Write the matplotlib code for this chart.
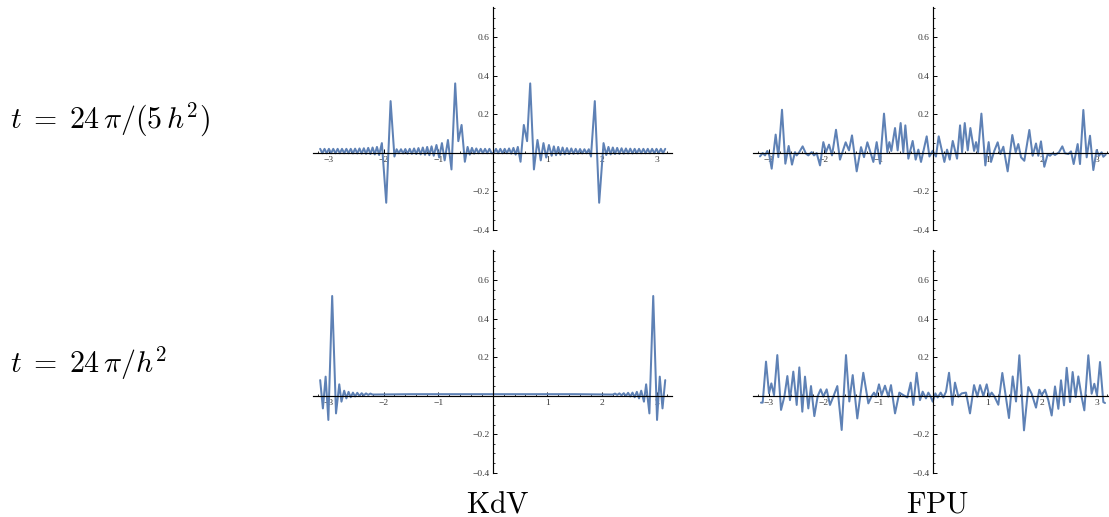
import numpy as np
import matplotlib
matplotlib.use("Agg")
import matplotlib.pyplot as plt
from matplotlib.ticker import FixedLocator, MultipleLocator, FuncFormatter

plt.rcParams["mathtext.fontset"] = "cm"

# ---- data ----
kdv1_x = [-3.16, -3.12, -3.08, -3.04, -3.00, -2.96, -2.92, -2.88, -2.84, -2.80, -2.76, -2.72,
          -2.68, -2.64, -2.60, -2.56, -2.52, -2.48, -2.44, -2.40, -2.36, -2.32, -2.28, -2.24,
          -2.20, -2.16, -2.12, -2.08, -2.03, -1.95, -1.87, -1.80, -1.76, -1.72, -1.68, -1.64,
          -1.60, -1.56, -1.52, -1.48, -1.44, -1.40, -1.36, -1.32, -1.28, -1.24, -1.20, -1.16,
          -1.12, -1.08, -1.03, -0.98, -0.93, -0.88, -0.82, -0.755, -0.687, -0.63, -0.57, -0.51,
          -0.46, -0.42, -0.38, -0.34, -0.30, -0.26, -0.22, -0.18, -0.14, -0.10, -0.06, -0.02,
          0.02, 0.06, 0.10, 0.14, 0.18, 0.22, 0.26, 0.30, 0.34, 0.38, 0.42, 0.46,
          0.51, 0.57, 0.63, 0.687, 0.755, 0.82, 0.88, 0.93, 0.98, 1.03, 1.08, 1.12,
          1.16, 1.20, 1.24, 1.28, 1.32, 1.36, 1.40, 1.44, 1.48, 1.52, 1.56, 1.60,
          1.64, 1.68, 1.72, 1.76, 1.80, 1.87, 1.95, 2.03, 2.08, 2.12, 2.16, 2.20,
          2.24, 2.28, 2.32, 2.36, 2.40, 2.44, 2.48, 2.52, 2.56, 2.60, 2.64, 2.68,
          2.72, 2.76, 2.80, 2.84, 2.88, 2.92, 2.96, 3.00, 3.04, 3.08, 3.12, 3.16]
kdv1_y = [0.020, -0.003, 0.020, -0.003, 0.020, -0.003, 0.020, -0.003, 0.020, -0.003, 0.020, -0.003,
          0.020, -0.003, 0.020, -0.004, 0.021, -0.004, 0.022, -0.005, 0.023, -0.006, 0.025, -0.007,
          0.027, -0.009, 0.030, -0.012, 0.050, -0.260, 0.268, -0.020, 0.018, -0.003, 0.018, -0.004,
          0.019, -0.005, 0.020, -0.006, 0.022, -0.007, 0.024, -0.009, 0.027, -0.011, 0.030, -0.013,
          0.033, -0.016, 0.040, -0.025, 0.050, -0.040, 0.066, -0.087, 0.360, 0.060, 0.144, -0.047,
          0.030, -0.010, 0.025, -0.005, 0.022, -0.003, 0.020, -0.003, 0.020, -0.003, 0.020, -0.003,
          -0.003, 0.020, -0.003, 0.020, -0.003, 0.020, -0.003, 0.022, -0.005, 0.025, -0.010, 0.030,
          -0.047, 0.144, 0.060, 0.360, -0.087, 0.066, -0.040, 0.050, -0.025, 0.040, -0.016, 0.033,
          -0.013, 0.030, -0.011, 0.027, -0.009, 0.024, -0.007, 0.022, -0.006, 0.020, -0.005, 0.019,
          -0.004, 0.018, -0.003, 0.018, -0.020, 0.268, -0.260, 0.050, -0.012, 0.030, -0.009, 0.027,
          -0.007, 0.025, -0.006, 0.023, -0.005, 0.022, -0.004, 0.021, -0.004, 0.020, -0.003, 0.020,
          -0.003, 0.020, -0.003, 0.020, -0.003, 0.020, -0.003, 0.020, -0.003, 0.020, -0.003, 0.020]

fpu1_x = [-3.163, -3.114, -3.071, -3.029, -2.992, -2.949, -2.876, -2.827, -2.760, -2.699, -2.638,
          -2.577, -2.522, -2.491, -2.443, -2.382, -2.321, -2.278, -2.217, -2.174, -2.125, -2.064,
          -2.003, -1.954, -1.899, -1.844, -1.771, -1.698, -1.594, -1.533, -1.478, -1.392, -1.313,
          -1.258, -1.197, -1.148, -1.087, -1.026, -0.965, -0.892, -0.831, -0.794, -0.758, -0.690,
          -0.642, -0.587, -0.538, -0.501, -0.446, -0.367, -0.312, -0.263, -0.214, -0.110, -0.060,
          0.000, 0.060, 0.110, 0.214, 0.263, 0.312, 0.367, 0.446, 0.501, 0.538, 0.587, 0.642,
          0.690, 0.758, 0.794, 0.831, 0.892, 0.964, 1.025, 1.068, 1.129, 1.190, 1.239, 1.294,
          1.373, 1.458, 1.520, 1.568, 1.618, 1.678, 1.770, 1.831, 1.892, 1.934, 1.983, 2.044,
          2.106, 2.148, 2.197, 2.240, 2.313, 2.374, 2.423, 2.484, 2.533, 2.582, 2.655, 2.698,
          2.759, 2.820, 2.881, 2.942, 3.003, 3.045, 3.094, 3.125, 3.168]
fpu1_y = [-0.019, -0.002, -0.014, 0.009, -0.014, -0.083, 0.094, -0.023, 0.223, -0.057, 0.035,
          -0.062, 0.003, -0.014, 0.003, 0.033, -0.005, -0.014, 0.003, -0.014, -0.002, -0.066,
          0.055, 0.003, 0.042, -0.014, 0.119, -0.036, 0.054, 0.012, 0.090, -0.097, 0.029,
          -0.023, 0.054, 0.009, -0.048, 0.055, -0.057, 0.203, 0.003, 0.055, 0.009, 0.128,
          0.012, 0.154, 0.003, 0.142, -0.031, 0.061, -0.036, 0.016, -0.048, 0.085, -0.020,
          0.010, -0.020, 0.085, -0.048, 0.016, -0.036, 0.061, -0.031, 0.142, 0.003, 0.154, 0.012,
          0.128, 0.009, 0.055, 0.003, 0.203, -0.066, 0.055, -0.048, 0.010, 0.054, -0.007, 0.031,
          -0.097, 0.092, 0.002, 0.045, -0.024, -0.042, 0.118, -0.016, 0.048, -0.016, 0.059, -0.073,
          -0.007, -0.016, -0.003, -0.012, 0.002, 0.033, -0.003, -0.007, 0.007, -0.059, 0.045, -0.059,
          0.222, -0.024, 0.088, -0.090, 0.014, -0.016, 0.002, -0.021, -0.010]

kdv2_x = [-3.16, -3.11, -3.06, -3.01, -2.94, -2.87, -2.81, -2.77, -2.72, -2.68, -2.64, -2.60,
          -2.56, -2.52, -2.48, -2.44, -2.40, -2.36, -2.32, -2.28, -2.24, -2.20, -1.5, -1.0,
          -0.5, 0.0, 0.5, 1.0, 1.5, 2.20, 2.24, 2.28, 2.32, 2.36, 2.40, 2.44, 2.48, 2.52,
          2.56, 2.60, 2.64, 2.68, 2.72, 2.77, 2.81, 2.87, 2.94, 3.01, 3.06, 3.11, 3.16]
kdv2_y = [0.081, -0.066, 0.099, -0.126, 0.518, -0.092, 0.059, -0.031, 0.026, -0.014, 0.020, -0.008,
          0.016, -0.004, 0.015, -0.001, 0.013, 0.002, 0.012, 0.004, 0.011, 0.006, 0.008, 0.008,
          0.008, 0.008, 0.008, 0.008, 0.008, 0.006, 0.011, 0.004, 0.012, 0.002, 0.013, -0.001,
          0.015, -0.004, 0.016, -0.008, 0.020, -0.014, 0.026, -0.031, 0.059, -0.092, 0.518,
          -0.126, 0.099, -0.066, 0.081]

fpu2_x = [-3.145, -3.114, -3.053, -2.998, -2.955, -2.906, -2.846, -2.778, -2.717, -2.662, -2.614,
          -2.553, -2.491, -2.443, -2.388, -2.339, -2.278, -2.229, -2.168, -2.106, -2.052, -2.003,
          -1.942, -1.881, -1.820, -1.747, -1.667, -1.588, -1.527, -1.465, -1.381, -1.271, -1.179,
          -1.118, -1.075, -1.038, -0.984, -0.935, -0.874, -0.813, -0.764, -0.690, -0.611, -0.538,
          -0.465, -0.403, -0.355, -0.294, -0.233, -0.184, -0.123, -0.080, -0.037, 0.000, 0.049,
          0.091, 0.146, 0.195, 0.244, 0.299, 0.360, 0.408, 0.470, 0.531, 0.610, 0.683, 0.757,
          0.818, 0.867, 0.928, 0.989, 1.037, 1.080, 1.129, 1.202, 1.275, 1.397, 1.465, 1.526,
          1.587, 1.672, 1.751, 1.813, 1.892, 1.953, 1.996, 2.057, 2.118, 2.179, 2.240, 2.301,
          2.350, 2.405, 2.454, 2.515, 2.563, 2.618, 2.667, 2.728, 2.777, 2.850, 2.911, 2.960,
          3.009, 3.064, 3.125, 3.156]
fpu2_y = [-0.036, -0.036, 0.177, 0.012, 0.064, 0.003, 0.211, -0.074, -0.005, 0.102, -0.023,
          0.125, -0.048, 0.147, -0.083, 0.099, -0.066, 0.050, -0.106, -0.002, 0.033, -0.005,
          0.033, -0.048, -0.005, 0.050, -0.178, 0.211, -0.030, 0.107, -0.118, 0.119, -0.040,
          -0.002, 0.016, -0.005, 0.059, 0.003, 0.052, -0.005, 0.055, -0.092, 0.016, 0.003,
          -0.009, 0.068, -0.048, 0.119, -0.023, 0.021, -0.014, 0.016, -0.005, -0.031, 0.012,
          -0.009, 0.016, -0.009, 0.021, 0.119, -0.048, 0.068, -0.005, 0.012, 0.016, -0.092, 0.055,
          -0.005, 0.055, -0.002, 0.059, -0.005, 0.016, -0.003, -0.047, 0.118, -0.116, 0.100, -0.030,
          0.210, -0.180, 0.045, 0.010, -0.062, 0.031, 0.002, 0.031, -0.024, -0.103, 0.048, -0.068,
          0.080, -0.050, 0.145, -0.033, 0.123, -0.007, 0.100, -0.007, -0.076, 0.210, 0.010, 0.062,
          0.002, 0.175, -0.033, -0.038]

row_labels = [r"$t\;=\;24\,\pi/(5\,h^2)$", r"$t\;=\;24\,\pi/h^2$"]
col_labels = [r"$\mathrm{KdV}$", r"$\mathrm{FPU}$"]
xticks = [-3, -2, -1, 1, 2, 3]
yticks = [-0.4, -0.2, 0.2, 0.4, 0.6]

# ---- layout ----
W, H = 1109, 517
fig = plt.figure(figsize=(W / 100, H / 100), dpi=100)
XLIM = (-3.285, 3.285)
YLIM = (-0.4, 0.755)
XU, YU = 54.6, 192.5          # pixels per data unit
col_x0 = [492.7, 932.7]       # pixel of x = 0
row_y0 = [152.7, 395.7]       # pixel of y = 0
line_color = "#5E81B5"


def fmt(v, _):
    return ("%g" % v).replace("-", "\u2212")


def panel(c, r, xs, ys):
    left = col_x0[c] + XLIM[0] * XU
    top = row_y0[r] - YLIM[1] * YU
    w = (XLIM[1] - XLIM[0]) * XU
    h = (YLIM[1] - YLIM[0]) * YU
    ax = fig.add_axes([left / W, 1 - (top + h) / H, w / W, h / H])
    ax.patch.set_visible(False)
    ax.plot(xs, ys, color=line_color, lw=1.45, solid_joinstyle="round",
            solid_capstyle="round")
    ax.set_xlim(*XLIM)
    ax.set_ylim(*YLIM)
    for s in ["top", "right"]:
        ax.spines[s].set_visible(False)
    for s in ["left", "bottom"]:
        ax.spines[s].set_position(("data", 0))
        ax.spines[s].set_linewidth(0.85)
    ax.xaxis.set_major_locator(FixedLocator(xticks))
    ax.xaxis.set_minor_locator(MultipleLocator(0.2))
    ax.yaxis.set_major_locator(FixedLocator(yticks))
    ax.yaxis.set_minor_locator(MultipleLocator(0.05))
    ax.xaxis.set_major_formatter(FuncFormatter(fmt))
    ax.yaxis.set_major_formatter(FuncFormatter(fmt))
    ax.tick_params(which="major", direction="in", length=3.0, width=0.7,
                   labelsize=6.8, labelcolor="#3a3a3a", pad=2.2)
    ax.tick_params(which="minor", direction="in", length=1.7, width=0.55)
    for lab in ax.get_xticklabels() + ax.get_yticklabels():
        lab.set_family("Liberation Serif")
    return ax


panel(0, 0, kdv1_x, kdv1_y)
panel(1, 0, fpu1_x, fpu1_y)
panel(0, 1, kdv2_x, kdv2_y)
panel(1, 1, fpu2_x, fpu2_y)

fig.text(10 / W, 1 - 120 / H, row_labels[0], fontsize=21.5, ha="left", va="center")
fig.text(10 / W, 1 - 363 / H, row_labels[1], fontsize=21.5, ha="left", va="center")
fig.text(498 / W, 1 - 504 / H, col_labels[0], fontsize=21.5, ha="center", va="center")
fig.text(938 / W, 1 - 504 / H, col_labels[1], fontsize=21.5, ha="center", va="center")

fig.savefig("out.png", dpi=100)
